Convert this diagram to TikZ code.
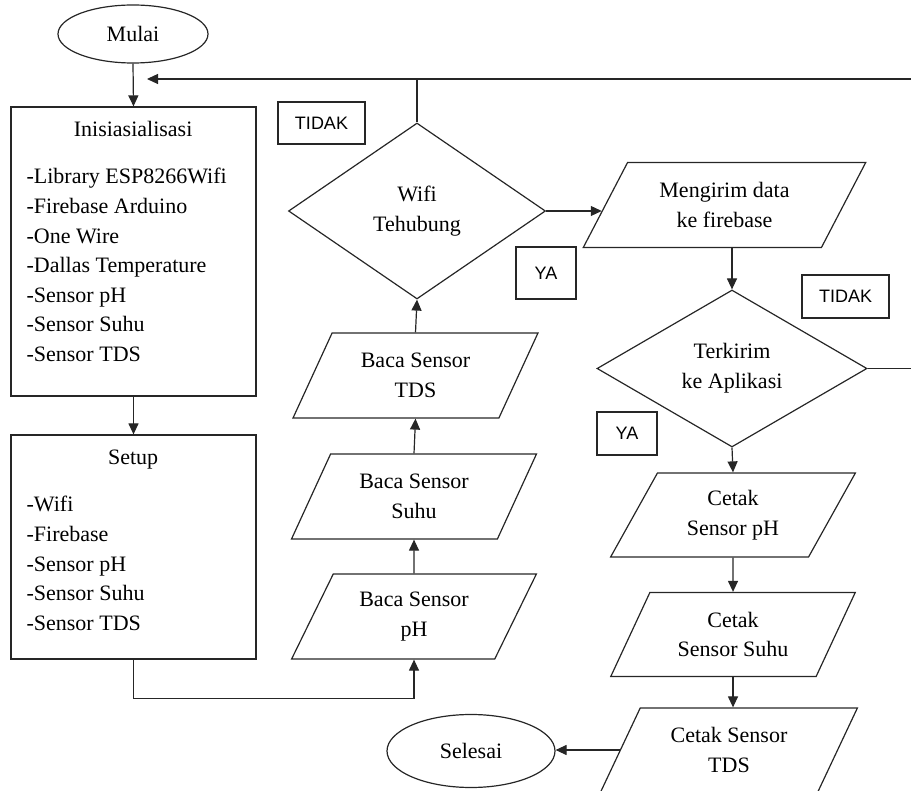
\documentclass[tikz,border=0pt]{standalone}
\usepackage{fontspec}
\setmainfont{Liberation Serif}
\newfontfamily\labfont{Liberation Sans}
\usetikzlibrary{shapes.geometric,arrows.meta,calc}
\begin{document}
\begin{tikzpicture}[x=1pt,y=-1pt,
  every node/.style={font=\fontsize{22}{29.6}\selectfont},
  outl/.style={draw=black!85, line width=1.2pt},
  ovalbox/.style={outl, ellipse, inner sep=0pt},
  procbox/.style={outl, rectangle, inner sep=0pt},
  iobox/.style={outl, trapezium, trapezium left angle=60, trapezium right angle=120,
    trapezium stretches=true, inner sep=0pt, align=center},
  decide/.style={outl, diamond, inner sep=0pt, align=center},
  tag/.style={outl, rectangle, font=\labfont\fontsize{18}{20}\selectfont, inner sep=0pt},
  listtext/.style={inner sep=0pt, anchor=base west},
  conn/.style={draw=black!85, line width=1.2pt},
  arr/.style={conn, -{Triangle[length=11pt,width=10pt]}}]
\useasboundingbox (0,0) rectangle (911,791);

% start
\node[ovalbox, minimum width=150, minimum height=58] (mulai) at (133,34) {Mulai};

% left column
\node[procbox, minimum width=245, minimum height=289] (init) at (133.5,251.5) {};
\node[listtext] (inittxt) at ($(init.north west)+(16,30)$) {\parbox[t]{213pt}{\centering Inisiasialisasi\par\vspace{18pt}\raggedright
-Library ESP8266Wifi\\-Firebase Arduino\\-One Wire\\-Dallas Temperature\\-Sensor pH\\-Sensor Suhu\\-Sensor TDS\par}};

\node[procbox, minimum width=245, minimum height=224] (setup) at (133.5,547) {};
\node[listtext] (setuptxt) at ($(setup.north west)+(16,30)$) {\parbox[t]{213pt}{\centering Setup\par\vspace{18pt}\raggedright
-Wifi\\-Firebase\\-Sensor pH\\-Sensor Suhu\\-Sensor TDS\par}};

% middle column
\node[iobox, minimum width=245, minimum height=85] (bph) at (414,616.5) {Baca Sensor\\pH};
\node[iobox, minimum width=245, minimum height=85] (bsuhu) at (414,496.5) {Baca Sensor\\Suhu};
\node[iobox, minimum width=245, minimum height=85] (btds) at (415.5,375.5) {Baca Sensor\\TDS};
\node[decide, minimum width=257, minimum height=176] (wifi) at (417,211) {Wifi\\Tehubung};

% right column
\node[iobox, trapezium left angle=56.6, trapezium right angle=123.4, minimum width=283, minimum height=85] (kirim) at (724.5,205) {Mengirim data\\ke firebase};
\node[decide, minimum width=270, minimum height=157] (terkirim) at (732,368.5) {Terkirim\\ke Aplikasi};
\node[iobox, minimum width=245, minimum height=84] (cph) at (733,515) {Cetak\\Sensor pH};
\node[iobox, minimum width=245, minimum height=84] (csuhu) at (733,634.5) {Cetak\\Sensor Suhu};
\node[iobox, minimum width=257, minimum height=84] (ctds) at (729,750) {Cetak Sensor\\TDS};
\node[ovalbox, minimum width=168, minimum height=73] (selesai) at (471,751) {Selesai};

% labels
\node[tag, minimum width=87, minimum height=42] (tidak1) at (321.5,123) {TIDAK};
\node[tag, minimum width=60, minimum height=52] (ya1) at (546,273) {YA};
\node[tag, minimum width=87, minimum height=43] (tidak2) at (845.5,296.5) {TIDAK};
\node[tag, minimum width=60, minimum height=43] (ya2) at (627,433.5) {YA};

% free ends
\coordinate (topL) at (147,79);
\coordinate (topR) at (911,79);
\coordinate (sideR) at (911,368.5);

% connectors
\draw[arr] (mulai.south) -- (init.north);
\draw[arr] (init.south) -- (setup.north);
\draw[arr] (setup.south) -- ++(0,39) -| (bph.south);
\draw[arr] (bph.north) -- (bsuhu.south);
\draw[arr] (bsuhu.north) -- (btds.south);
\draw[arr] (btds.north) -- (wifi.south);
\draw[arr] (wifi.north) |- (topL);
\draw[conn] (wifi.north |- topL) -- (topR);
\draw[arr, shorten >=3pt] (wifi.east) -- (wifi.east -| kirim.west);
\draw[arr] (terkirim.north |- kirim.south) -- (terkirim.north);
\draw[conn] (terkirim.east) -- (sideR);
\draw[arr] (terkirim.south) -- (cph.north);
\draw[arr] (cph.south) -- (csuhu.north);
\draw[arr] (csuhu.south) -- (csuhu.south |- ctds.north);
\draw[arr] (ctds.west) -- (ctds.west -| selesai.east);
\end{tikzpicture}
\end{document}
